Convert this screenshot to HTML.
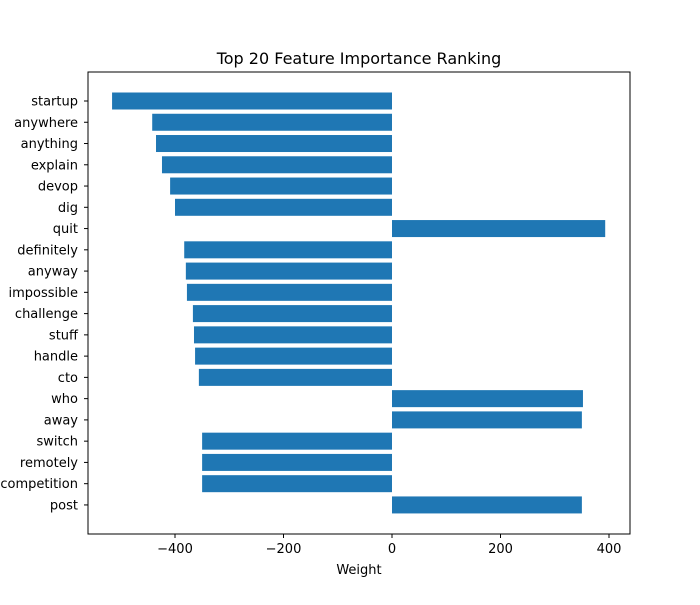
<!DOCTYPE html>
<html><head><meta charset="utf-8"><style>
body{margin:0;background:#fff;font-family:"Liberation Sans","DejaVu Sans",sans-serif;}
svg text{font-family:"DejaVu Sans","Liberation Sans",sans-serif;font-size:13px;fill:#000;}
</style></head><body>
<svg id="chart" width="700" height="600">
<rect width="700" height="600" fill="#fff"/>
<text x="359" y="64" text-anchor="middle" style="font-size:16px">Top 20 Feature Importance Ranking</text>
<g id="bars"></g>
<g id="axes"></g>
<text x="359" y="574" text-anchor="middle">Weight</text>
</svg>
<script>
const features=["startup","anywhere","anything","explain","devop","dig","quit","definitely","anyway","impossible","challenge","stuff","handle","cto","who","away","switch","remotely","competition","post"];
const weights=[-516,-442,-435,-424,-409,-400,393,-383,-380,-378,-367,-365,-363,-356,352,350,-350,-350,-350,350];
const xTicks=[-400,-200,0,200,400];
const tickLabels=["\u2212400","\u2212200","0","200","400"];
const NS="http://www.w3.org/2000/svg";
const L=88,R=630,T=72,B=534;
const x=v=>392+v*0.5425;
const y=i=>101+i*21.26;
const bars=document.getElementById('bars'),axes=document.getElementById('axes');
function mk(tag,attrs,parent){const e=document.createElementNS(NS,tag);for(const k in attrs)e.setAttribute(k,attrs[k]);parent.appendChild(e);return e;}
features.forEach((f,i)=>{
 const w=weights[i];
 const r=mk('rect',{x:Math.min(x(0),x(w)),y:y(i)-8.5,width:Math.abs(x(w)-x(0)),height:17,fill:'#1f77b4'},bars);
 
 
 const tk=mk('line',{x1:L-4,x2:L,y1:y(i),y2:y(i),stroke:'#000'},axes);
 
 
 const t=mk('text',{x:L-10,y:y(i)+4.5,'text-anchor':'end'},axes);
 t.textContent=f;
 
 
});
xTicks.forEach((v,i)=>{
 const tk=mk('line',{x1:x(v),x2:x(v),y1:B,y2:B+4,stroke:'#000'},axes);
 
 
 const t=mk('text',{x:x(v),y:B+19,'text-anchor':'middle'},axes);
 t.textContent=tickLabels[i];
 
 
});
const frame=mk('rect',{x:L,y:T,width:R-L,height:B-T,fill:'none',stroke:'#000','stroke-width':1},axes);


</script>
</body></html>
